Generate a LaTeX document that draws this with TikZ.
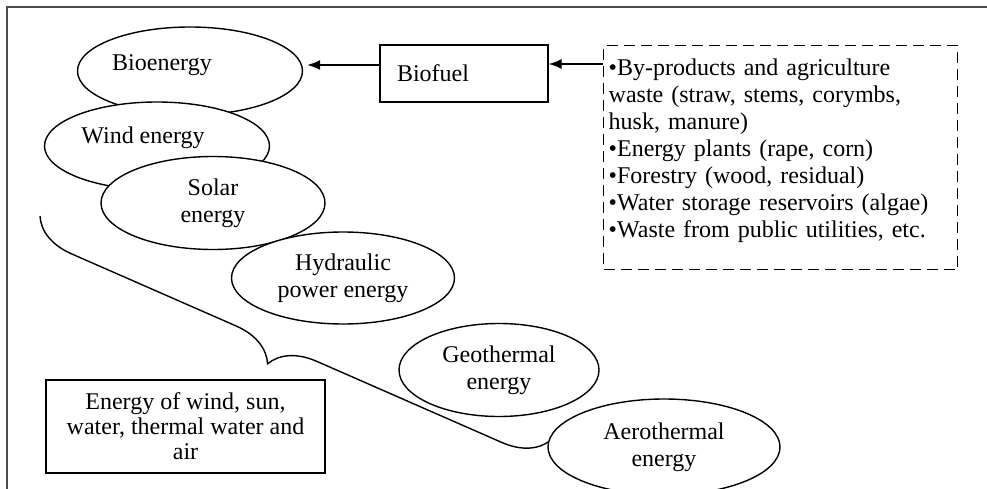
\documentclass[tikz,border=0pt]{standalone}
\usepackage{fontspec}
\setmainfont{Liberation Serif}
\usetikzlibrary{shapes.geometric,arrows.meta,decorations.pathreplacing}

\begin{document}
\begin{tikzpicture}[x=1pt,y=-1pt,
  font=\fontsize{24}{27}\selectfont,
  blob/.style={draw, ellipse, fill=white, line width=1.4pt, inner sep=0pt, align=center},
  box/.style={draw, rectangle, line width=1.4pt},
  arr/.style={line width=1.4pt, -{Latex[length=13pt,width=10pt]}}]
\useasboundingbox (0,0) rectangle (987,489);
\draw[line width=2pt, black!70] (987,7) -- (7,7) -- (7,489);

% brace under the ellipses
\coordinate (b1) at (40,216);
\coordinate (b2) at (551,440);
\draw[line width=1.4pt, decorate, decoration={brace, mirror, amplitude=44pt, aspect=0.48}] (b1) -- (b2);

\node[blob, minimum width=225pt, minimum height=88pt, label={[name=biotxt, xshift=-28pt, yshift=6pt]center:Bioenergy}] (bio) at (190,71) {};
\node[blob, minimum width=225pt, minimum height=88pt, label={[name=windtxt, xshift=-14pt, yshift=8pt]center:Wind energy}] (wind) at (157,146) {};
\node[blob, minimum width=224pt, minimum height=93pt] (solar) at (213,203) {Solar\\energy};
\node[blob, minimum width=223pt, minimum height=92pt] (hydro) at (343,278) {Hydraulic\\power energy};
\node[blob, minimum width=200pt, minimum height=93pt] (geo) at (499,370) {Geothermal\\energy};
\node[blob, minimum width=232pt, minimum height=96pt] (aero) at (664,447) {Aerothermal\\energy};

\node[box, minimum height=57pt, text width=134pt, inner xsep=17pt, align=left] (fuel) at (464,73.5) {Biofuel};
\node[box, dash pattern=on 11pt off 6pt, anchor=north west, text width=344pt, inner xsep=5pt, inner ysep=13.6pt, align=left] (src) at (603,45)
  {•By-products and agriculture\\waste (straw, stems, corymbs,\\husk, manure)\\•Energy plants (rape, corn)\\•Forestry (wood, residual)\\•Water storage reservoirs (algae)\\•Waste from public utilities, etc.\rule[-18pt]{0pt}{18pt}};
\node[box, minimum width=279pt, minimum height=93pt, align=center, font=\fontsize{24}{25}\selectfont] (mix) at (185.5,426.5) {Energy of wind, sun,\\water, thermal water and\\air};

\draw[arr] ([yshift=8.5pt]fuel.west) -- ([yshift=6pt,xshift=4pt]bio.east);
\draw[arr] (src.west |- 0,64) -- ([yshift=9.5pt]fuel.east);
\end{tikzpicture}
\end{document}
